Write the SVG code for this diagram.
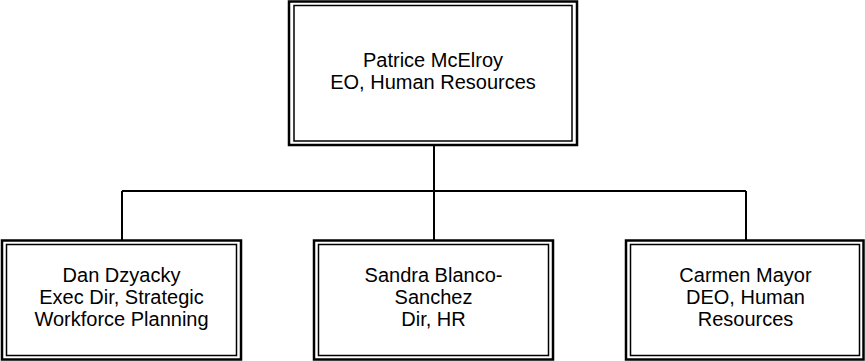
<svg xmlns="http://www.w3.org/2000/svg" width="865" height="361" viewBox="0 0 865 361">
<style>
.outer{fill:#fff;stroke:#000;stroke-width:2.5}
.inner{fill:none;stroke:#000;stroke-width:1.5}
.t{font-family:"Liberation Sans",Arial,sans-serif;font-size:20px;fill:#000;text-anchor:middle}
.c{fill:none;stroke:#000;stroke-width:2}
</style>
<g id="connectors">
<path class="c" d="M434,146 V240"/>
<path class="c" d="M122,191 H746"/>
<path class="c" d="M122,191 V240"/>
<path class="c" d="M746,191 V240"/>
</g>
<g id="patrice">
<rect class="outer" x="289" y="1.5" width="288" height="143.5"/>
<rect class="inner" x="294" y="5.5" width="278" height="135.5"/>
<text class="t" x="433" y="67">Patrice McElroy</text>
<text class="t" x="433" y="89">EO, Human Resources</text>
</g>
<g id="dan">
<rect class="outer" x="2" y="240.5" width="239" height="119"/>
<rect class="inner" x="6.5" y="244.5" width="230" height="111"/>
<text class="t" x="121.5" y="282">Dan Dzyacky</text>
<text class="t" x="121.5" y="304">Exec Dir, Strategic</text>
<text class="t" x="121.5" y="326">Workforce Planning</text>
</g>
<g id="sandra">
<rect class="outer" x="314" y="240.5" width="239" height="119"/>
<rect class="inner" x="318.5" y="244.5" width="230" height="111"/>
<text class="t" x="433.5" y="282">Sandra Blanco-</text>
<text class="t" x="433.5" y="304">Sanchez</text>
<text class="t" x="433.5" y="326">Dir, HR</text>
</g>
<g id="carmen">
<rect class="outer" x="626" y="240.5" width="237.5" height="119"/>
<rect class="inner" x="630.5" y="244.5" width="229" height="111"/>
<text class="t" x="745.5" y="282">Carmen Mayor</text>
<text class="t" x="745.5" y="304">DEO, Human</text>
<text class="t" x="745.5" y="326">Resources</text>
</g>
</svg>
